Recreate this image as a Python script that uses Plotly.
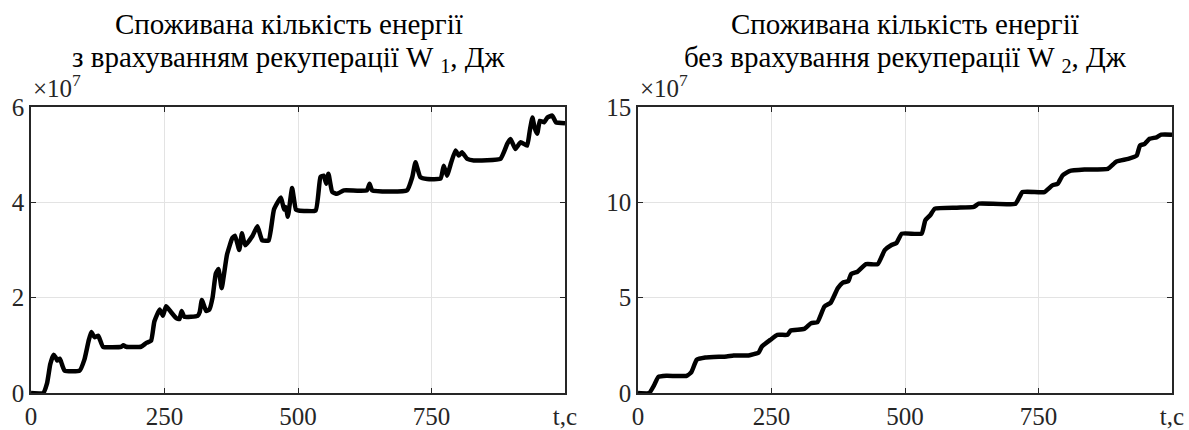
import plotly.graph_objects as go

# Data (values in units of 1e7 J)
t1 = [0, 23, 30, 36, 42, 46, 49, 54, 58, 63, 91, 100, 108, 113, 119, 126, 135, 169, 173, 178,
      206, 216, 225, 231, 241, 247, 253, 262, 272, 278, 282, 287, 312, 316, 320, 328, 334, 340, 346, 351,
      357, 367, 377, 382, 390, 395, 401, 415, 424, 433, 445, 455, 468, 474, 477, 481, 489, 496, 501, 533,
      542, 548, 553, 557, 564, 573, 586, 629, 634, 639, 704, 714, 720, 729, 742, 767, 773, 779, 787, 795,
      801, 807, 817, 829, 879, 892, 898, 907, 917, 929, 934, 939, 943, 948, 953, 961, 967, 976, 983, 1000]
w1 = [0, 0, 0.2, 0.6, 0.8, 0.75, 0.68, 0.72, 0.6, 0.47, 0.47, 0.7, 1.1, 1.28, 1.17, 1.2, 0.97, 0.97, 1.0, 0.97,
      0.97, 1.05, 1.1, 1.5, 1.75, 1.62, 1.82, 1.7, 1.57, 1.55, 1.72, 1.6, 1.62, 1.7, 1.95, 1.72, 1.75, 2.0, 2.5, 2.6,
      2.2, 2.9, 3.25, 3.3, 3.0, 3.35, 3.1, 3.3, 3.5, 3.2, 3.2, 3.85, 4.1, 3.85, 3.9, 3.7, 4.3, 3.85, 3.83, 3.83,
      4.53, 4.56, 4.39, 4.6, 4.22, 4.18, 4.25, 4.25, 4.39, 4.25, 4.25, 4.53, 4.84, 4.53, 4.49, 4.5, 4.77, 4.56, 4.84, 5.09,
      4.98, 5.05, 4.91, 4.88, 4.91, 5.23, 5.33, 5.12, 5.26, 5.19, 5.5, 5.78, 5.57, 5.44, 5.71, 5.68, 5.78, 5.82, 5.68, 5.66]

t2 = [0, 21, 30, 38, 53, 91, 100, 110, 126, 166, 179, 207, 226, 232, 248, 261, 280, 286, 311, 324,
      336, 349, 361, 374, 383, 394, 399, 411, 427, 449, 462, 474, 484, 494, 531, 538, 547, 556, 597, 629,
      638, 707, 720, 761, 776, 786, 795, 808, 836, 880, 896, 918, 934, 940, 949, 958, 971, 980, 1000]
w2 = [0, 0, 0.4, 0.84, 0.9, 0.9, 1.1, 1.74, 1.86, 1.92, 1.97, 1.97, 2.13, 2.44, 2.79, 3.05, 3.05, 3.28, 3.36, 3.66,
      3.71, 4.53, 4.74, 5.49, 5.78, 5.87, 6.24, 6.36, 6.76, 6.76, 7.49, 7.75, 7.87, 8.36, 8.36, 9.06, 9.32, 9.67, 9.72, 9.76,
      9.93, 9.93, 10.54, 10.54, 10.89, 10.98, 11.41, 11.64, 11.72, 11.76, 12.14, 12.28, 12.46, 12.98, 13.07, 13.33, 13.41, 13.55, 13.55]

x_ticks = [0, 250, 500, 750, 1000]
x_ticktext = ["0", "250", "500", "750", "t,c"]
y1_ticks = [0, 2, 4, 6]
y2_ticks = [0, 5, 10, 15]

title1 = ["Споживана кількість енергії", "з врахуванням рекуперації W <sub>1</sub>, Дж"]
title2 = ["Споживана кількість енергії", "без врахування рекуперації W <sub>2</sub>, Дж"]

W, H = 1189, 430
FONT = "'Liberation Serif', 'Times New Roman', Times, serif"
AX = "#262626"

def px_x(p):
    return p / W

def px_y(p):
    return 1 - p / H

dom1 = [px_x(31), px_x(565)]
dom2 = [px_x(638), px_x(1172)]
ydom = [px_y(393), px_y(107)]
title_cx = [px_x(289), px_x(905)]

fig = go.Figure()
fig.add_trace(go.Scatter(x=t1, y=w1, mode="lines", line=dict(color="black", width=4.5, shape="spline", smoothing=0.4),
                         xaxis="x", yaxis="y", showlegend=False))
fig.add_trace(go.Scatter(x=t2, y=w2, mode="lines", line=dict(color="black", width=4.5, shape="spline", smoothing=0.4),
                         xaxis="x2", yaxis="y2", showlegend=False))

axis_common = dict(showline=True, linecolor=AX, linewidth=1.5, mirror="ticks",
                   ticks="inside", ticklen=5, tickwidth=1.2, tickcolor=AX,
                   showgrid=True, gridcolor="#e3e3e3", gridwidth=1, zeroline=False,
                   automargin=False,
                   tickfont=dict(family=FONT, size=25, color=AX), fixedrange=True)

fig.update_layout(
    template="none",
    width=W, height=H, margin=dict(l=0, r=0, t=0, b=0, autoexpand=False),
    paper_bgcolor="white", plot_bgcolor="white",
    font=dict(family=FONT),
    xaxis=dict(domain=dom1, range=[0, 1000], tickmode="array", tickvals=x_ticks, ticktext=x_ticktext,
               anchor="y", **axis_common),
    yaxis=dict(domain=ydom, range=[0, 6], tickmode="array", tickvals=y1_ticks,
               ticktext=[str(v) for v in y1_ticks], anchor="x", **axis_common),
    xaxis2=dict(domain=dom2, range=[0, 1000], tickmode="array", tickvals=x_ticks, ticktext=x_ticktext,
                anchor="y2", **axis_common),
    yaxis2=dict(domain=ydom, range=[0, 15], tickmode="array", tickvals=y2_ticks,
                ticktext=[str(v) for v in y2_ticks], anchor="x2", **axis_common),
)

anns = []
for dom, cx, title in ((dom1, title_cx[0], title1), (dom2, title_cx[1], title2)):
    anns.append(dict(text=title[0], x=cx, y=px_y(42), xref="paper", yref="paper",
                     xanchor="center", yanchor="bottom", showarrow=False,
                     font=dict(family=FONT, size=29, color="black")))
    anns.append(dict(text=title[1], x=cx, y=px_y(79), xref="paper", yref="paper",
                     xanchor="center", yanchor="bottom", showarrow=False,
                     font=dict(family=FONT, size=29, color="black")))
    anns.append(dict(text="×10<sup>7</sup>", x=dom[0], y=px_y(104), xref="paper", yref="paper",
                     xanchor="left", yanchor="bottom", showarrow=False,
                     font=dict(family=FONT, size=25, color=AX)))
fig.update_layout(annotations=anns)

fig.write_html("out.html", config={"displayModeBar": False},
               post_script="document.body.style.margin='0';")
